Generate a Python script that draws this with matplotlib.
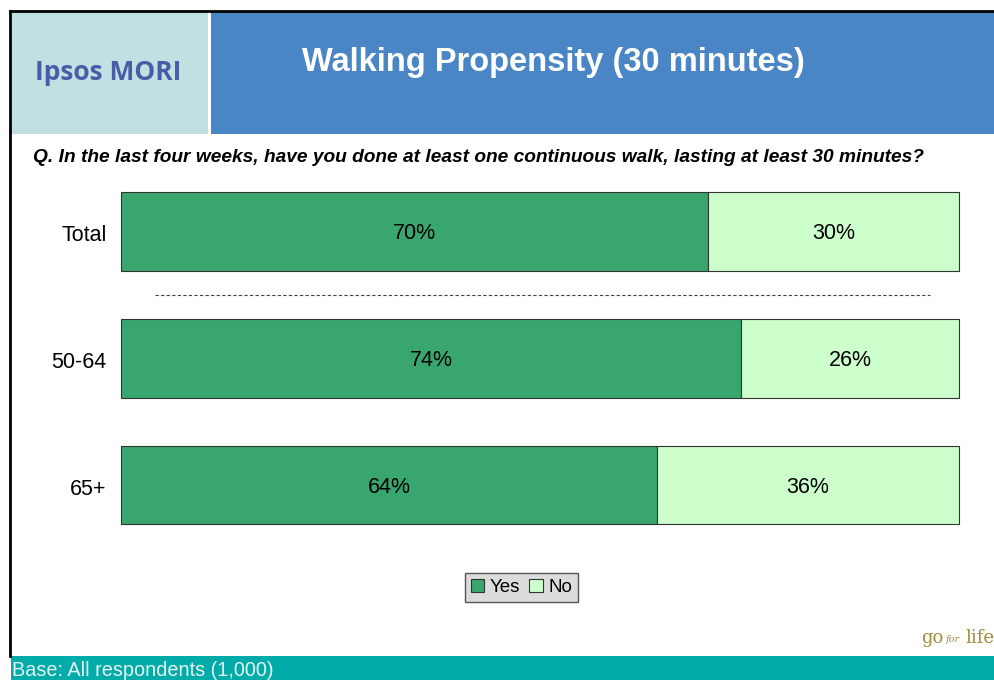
import matplotlib.pyplot as plt
import matplotlib.transforms as mtransforms
from matplotlib.patches import Rectangle
from matplotlib.lines import Line2D

W, H = 995, 680

groups = ["Total", "50-64", "65+"]
yes_vals = [70, 74, 64]
no_vals = [30, 26, 36]

YES_COL = "#38A66E"
NO_COL = "#CCFFCC"


def fx(px):
    return px / W


def fy(py):
    return 1 - py / H


fig = plt.figure(figsize=(W / 100, H / 100), dpi=100)
fig.patch.set_facecolor("white")

# header boxes
fig.patches.append(Rectangle((fx(11), fy(134)), fx(197), 122 / H, transform=fig.transFigure,
                             facecolor="#C0E0E2", edgecolor="none", zorder=0))
fig.patches.append(Rectangle((fx(211), fy(134)), fx(784), 122 / H, transform=fig.transFigure,
                             facecolor="#4A85C5", edgecolor="none", zorder=0))
fig.text(fx(108), fy(73), "Ipsos MORI", ha="center", va="center", fontsize=19,
         fontweight="bold", color="#4B5BA8", family="Open Sans")
fig.text(fx(553), fy(62), "Walking Propensity (30 minutes)", ha="center", va="center",
         fontsize=23.5, fontweight="bold", color="white", family="Liberation Sans")

# frame
fig.lines.append(Line2D([fx(10), fx(10)], [fy(656), fy(11)], transform=fig.transFigure,
                        color="black", lw=2))
fig.lines.append(Line2D([fx(10), 1], [fy(11), fy(11)], transform=fig.transFigure,
                        color="black", lw=2))

# question
fig.text(fx(33), fy(158), "Q. In the last four weeks, have you done at least one continuous walk, lasting at least 30 minutes?",
         ha="left", va="center", fontsize=13.8, fontweight="bold", style="italic",
         family="Liberation Sans")

# footer
fig.patches.append(Rectangle((fx(11), 0), 1 - fx(11), 24 / H, transform=fig.transFigure,
                             facecolor="#00ABA8", edgecolor="none", zorder=0))
fig.text(fx(12), fy(670), "Base: All respondents (1,000)", ha="left", va="center",
         fontsize=14.3, color="#E6F4F4", family="Liberation Sans")

# logo text
fig.text(fx(921), fy(638), "go", ha="left", va="center", fontsize=13,
         color="#A08C3C", family="DejaVu Serif")
fig.text(fx(946), fy(639), "for", ha="left", va="center", fontsize=7,
         style="italic", color="#A08C3C", family="DejaVu Serif")
fig.text(fx(965), fy(638), "life", ha="left", va="center", fontsize=13,
         color="#A08C3C", family="DejaVu Serif")

# chart
ax = fig.add_axes([fx(121), fy(548.5), 838 / W, 380.5 / H])
y = range(len(groups))
ax.barh(y, yes_vals, height=0.62, color=YES_COL, edgecolor="#333333", linewidth=0.8,
        label="Yes", clip_on=False)
ax.barh(y, no_vals, left=yes_vals, height=0.62, color=NO_COL, edgecolor="#333333",
        linewidth=0.8, label="No", clip_on=False)
for i in y:
    ax.text(yes_vals[i] / 2, i + 0.02, f"{yes_vals[i]}%", ha="center", va="center",
            fontsize=15.5, family="Liberation Sans")
    ax.text(yes_vals[i] + no_vals[i] / 2, i + 0.02, f"{no_vals[i]}%", ha="center", va="center",
            fontsize=15.5, family="Liberation Sans")
ax.plot([4, 96.5], [0.5, 0.5], ls=(0, (3, 2)), color="#444444", lw=0.8)
ax.set_xlim(0, 100)
ax.set_ylim(2.5, -0.5)
ax.set_yticks(list(y))
ax.set_yticklabels(groups, fontsize=15.5, family="Liberation Sans")
ax.tick_params(axis="y", length=0, pad=10.5)
shift = mtransforms.ScaledTranslation(0, -2 / 100, fig.dpi_scale_trans)
for lab in ax.get_yticklabels():
    lab.set_transform(lab.get_transform() + shift)
ax.set_xticks([])
for s in ax.spines.values():
    s.set_visible(False)

leg = fig.legend(loc="center", bbox_to_anchor=(fx(521.5), fy(587.5)), ncol=2,
                 prop={"family": "Liberation Sans", "size": 13.5}, frameon=True,
                 fancybox=False, handlelength=0.7, handleheight=0.7, handletextpad=0.3,
                 columnspacing=0.5, borderpad=0.3, borderaxespad=0)
leg.get_frame().set_facecolor("#DCDCDC")
leg.get_frame().set_edgecolor("#555555")
leg.get_frame().set_alpha(1)

fig.savefig("out.png", dpi=100)
